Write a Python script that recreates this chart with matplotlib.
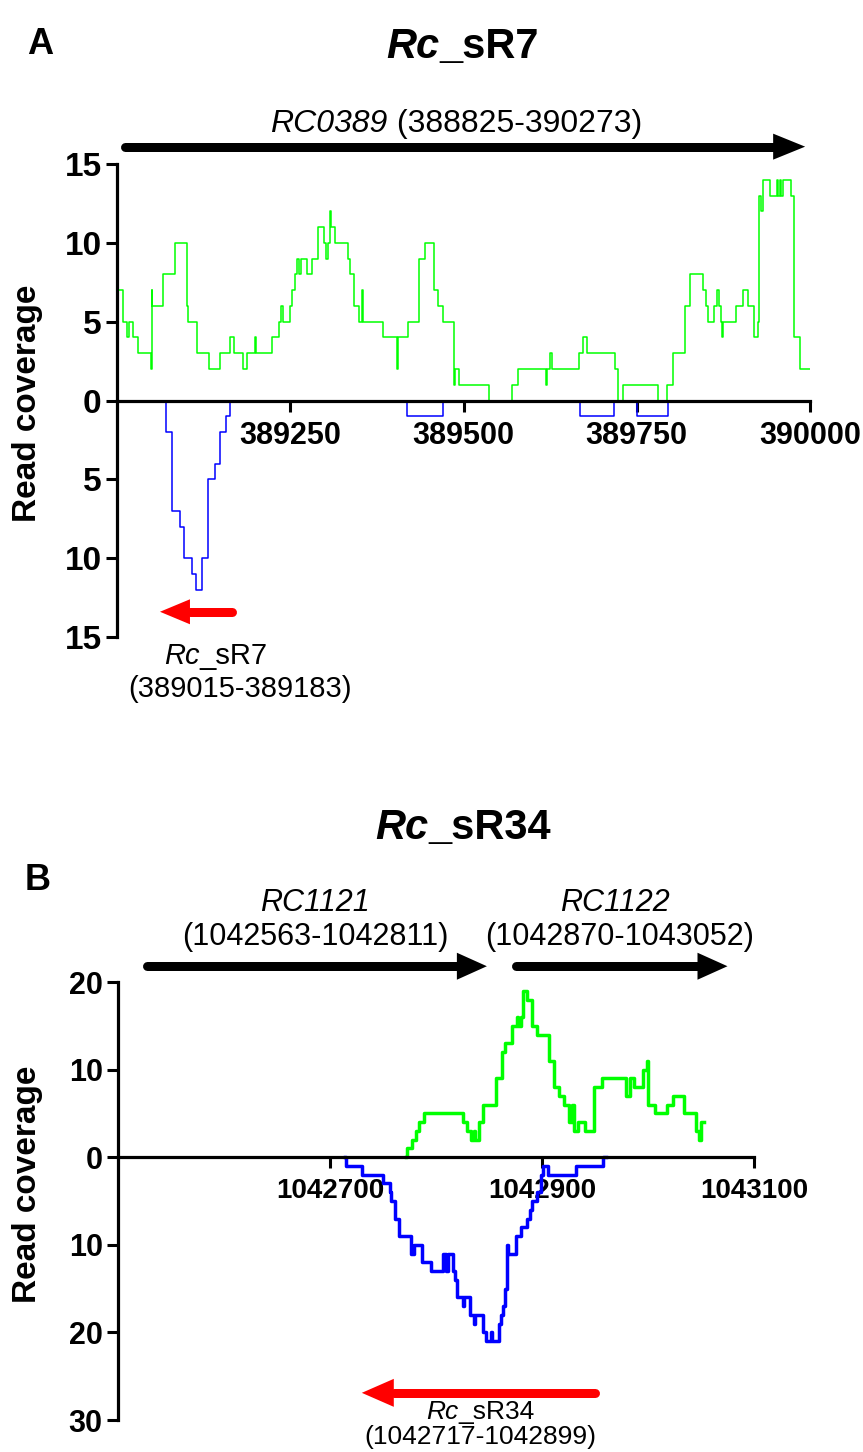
import matplotlib
matplotlib.use('Agg')
import matplotlib.pyplot as plt

BASE = 'Liberation Sans'
plt.rcParams['font.family'] = [BASE, 'DejaVu Sans']

# ---------------- data : panel A (Rc_sR7) ----------------
greenA_x = [389000, 389009, 389015, 389018, 389023, 389031, 389049, 389050, 389051, 389066,
            389084, 389101, 389103, 389116, 389133, 389149, 389163, 389169, 389182, 389187,
            389199, 389200, 389223, 389234, 389237, 389239, 389250, 389253, 389257, 389260,
            389263, 389265, 389274, 389282, 389290, 389298, 389301, 389305, 389307, 389309,
            389314, 389334, 389336, 389342, 389349, 389353, 389355, 389384, 389404, 389406,
            389420, 389436, 389445, 389458, 389463, 389470, 389486, 389488, 389494, 389537,
            389570, 389578, 389619, 389621, 389625, 389627, 389667, 389672, 389678, 389719,
            389723, 389730, 389781, 389794, 389802, 389820, 389827, 389845, 389850, 389853,
            389861, 389866, 389868, 389871, 389873, 389875, 389893, 389903, 389911, 389919,
            389925, 389927, 389929, 389932, 389943, 389952, 389954, 389956, 389958, 389961,
            389973, 389977, 389985, 390000]
greenA_y = [7, 5, 4, 5, 4, 3, 2, 7, 6, 8,
            10, 6, 5, 3, 2, 3, 4, 3, 2, 3,
            4, 3, 4, 5, 6, 5, 6, 7, 8, 9,
            8, 9, 8, 9, 11, 10, 9, 10, 12, 11,
            10, 9, 8, 6, 5, 7, 5, 4, 2, 4,
            5, 9, 10, 7, 6, 5, 1, 2, 1, 0,
            1, 2, 1, 2, 3, 2, 3, 4, 3, 2,
            0, 1, 0, 1, 3, 6, 8, 7, 6, 5,
            6, 7, 6, 5, 4, 5, 6, 7, 6, 4,
            5, 13, 12, 14, 13, 14, 13, 14, 13, 14,
            13, 4, 2, 2]

blueA_x = [389000, 389071, 389079, 389091, 389097, 389108, 389114, 389122, 389131, 389142,
           389149, 389158, 389163, 389419, 389470, 389668, 389717, 389750, 389795, 390000]
blueA_y = [0, 2, 7, 8, 10, 11, 12, 10, 5, 4,
           2, 1, 0, 1, 0, 1, 0, 1, 0, 0]

xticksA = [389250, 389500, 389750, 390000]
yticksA = [-15, -10, -5, 0, 5, 10, 15]
geneA = (389012, 389993, 16.1)          # RC0389 arrow (tail, tip, level)
srnaA = (389166, 389062, -13.4)         # Rc_sR7 arrow

# ---------------- data : panel B (Rc_sR34) ----------------
greenB_x = [1042772, 1042773, 1042777, 1042781, 1042784, 1042789, 1042825, 1042829, 1042833, 1042836,
            1042837, 1042841, 1042844, 1042857, 1042862, 1042865, 1042872, 1042876, 1042877, 1042880,
            1042882, 1042886, 1042891, 1042895, 1042907, 1042911, 1042916, 1042921, 1042925, 1042928,
            1042930, 1042934, 1042941, 1042949, 1042957, 1042979, 1042983, 1042987, 1042995, 1042999,
            1043000, 1043007, 1043018, 1043024, 1043034, 1043045, 1043048, 1043050, 1043053]
greenB_y = [0, 1, 2, 3, 4, 5, 4, 3, 2, 3,
            2, 4, 6, 9, 12, 13, 15, 16, 15, 16,
            19, 18, 15, 14, 11, 8, 7, 6, 4, 6,
            3, 4, 3, 8, 9, 7, 9, 8, 10, 11,
            6, 5, 6, 7, 5, 3, 2, 4, 4]

blueB_x = [1042714, 1042715, 1042730, 1042750, 1042757, 1042758, 1042761, 1042765, 1042776, 1042779,
           1042787, 1042795, 1042807, 1042809, 1042811, 1042816, 1042818, 1042820, 1042825, 1042826,
           1042832, 1042836, 1042837, 1042844, 1042847, 1042852, 1042853, 1042859, 1042861, 1042863,
           1042865, 1042867, 1042868, 1042875, 1042880, 1042886, 1042889, 1042891, 1042895, 1042899,
           1042901, 1042906, 1042932, 1042958, 1042960]
blueB_y = [0, 1, 2, 3, 4, 5, 7, 9, 11, 10,
           12, 13, 11, 13, 11, 13, 14, 16, 17, 16,
           18, 19, 18, 20, 21, 20, 21, 19, 18, 17,
           15, 10, 11, 9, 8, 7, 6, 5, 4, 2,
           1, 2, 1, 0, 0]

xticksB = [1042700, 1042900, 1043100]
yticksB = [-30, -20, -10, 0, 10, 20]
geneB1 = (1042527, 1042848, 21.8)       # RC1121 arrow
geneB2 = (1042875, 1043075, 21.8)       # RC1122 arrow
srnaB = (1042950, 1042730, -26.9)       # Rc_sR34 arrow

# ---------------- figure ----------------
W, H = 863, 1452
fig = plt.figure(figsize=(W / 100, H / 100), dpi=100)
fig.patch.set_facecolor('white')
renderer = fig.canvas.get_renderer()


def px_axes(l, t, r, b):
    return fig.add_axes([l / W, 1 - b / H, (r - l) / W, (b - t) / H])


def mixed(px, py, parts, fontsize, weight='normal'):
    """Centered text made of (string, fontstyle) pieces."""
    texts = [fig.text(0, 1 - py / H, s, fontsize=fontsize, fontstyle=st,
                      fontweight=weight, ha='left', va='center')
             for s, st in parts]
    widths = [t.get_window_extent(renderer).width for t in texts]
    x = px - sum(widths) / 2
    for t, w in zip(texts, widths):
        t.set_x(x / W)
        x += w


def setup(ax, xlim, ylim, xticks, yticks, xfs, yfs):
    ax.set_xlim(xlim)
    ax.set_ylim(ylim)
    ax.patch.set_alpha(0)
    for s in ['top', 'right']:
        ax.spines[s].set_visible(False)
    ax.spines['bottom'].set_position(('data', 0))
    for s in ['left', 'bottom']:
        ax.spines[s].set_linewidth(2.3)
        ax.spines[s].set_color('black')
    ax.set_xticks(xticks)
    ax.set_xticklabels([str(v) for v in xticks], fontsize=xfs, fontweight='bold')
    ax.set_yticks(yticks)
    ax.set_yticklabels([str(abs(v)) for v in yticks], fontsize=yfs, fontweight='bold')
    ax.tick_params(axis='both', direction='out', length=8, width=2.2, colors='black')
    ax.tick_params(axis='x', pad=7)
    ax.tick_params(axis='y', pad=3)


def arrow(ax, spec, color, shaft_px, head_w_px, head_len_px):
    x0, x1, y = spec
    bb = ax.get_position()
    xl, yl = ax.get_xlim(), ax.get_ylim()
    dxp = (xl[1] - xl[0]) / (bb.width * W)
    dyp = (yl[1] - yl[0]) / (bb.height * H)
    d = 1 if x1 > x0 else -1
    base = x1 - d * head_len_px * dxp
    ax.plot([x0, base], [y, y], color=color, lw=shaft_px * 0.72,
            solid_capstyle='round', clip_on=False, zorder=5)
    hw = head_w_px * dyp / 2
    ax.fill([base, x1, base], [y - hw, y, y + hw], color=color, lw=0,
            clip_on=False, zorder=5)


def ylabel(ax, cx, cy, fs):
    ax.set_ylabel('Read coverage', fontsize=fs, fontweight='bold', va='center')
    bb = ax.get_position()
    ax.yaxis.set_label_coords((cx / W - bb.x0) / bb.width,
                              ((1 - cy / H) - bb.y0) / bb.height)


# ---- panel A ----
axA = px_axes(117, 164, 810, 637)
setup(axA, (389000, 390000), (-15, 15), xticksA, yticksA, 22, 24)
axA.step(greenA_x, greenA_y, where='post', color='#00ff00', lw=1.1)
axA.step(blueA_x, [-v for v in blueA_y], where='post', color='#0000ff', lw=1.1)
arrow(axA, geneA, 'black', 9, 26, 32)
arrow(axA, srnaA, '#ff0000', 9, 25, 30)
ylabel(axA, 28, 403, 24)

fig.text(40 / W, 1 - 45 / H, 'A', fontsize=26, fontweight='bold', ha='center', va='center')
mixed(463, 47, [('Rc', 'italic'), ('_sR7', 'normal')], 30, 'bold')
mixed(456, 124, [('RC0389', 'italic'), (' (388825-390273)', 'normal')], 23)
mixed(216, 656, [('Rc', 'italic'), ('_sR7', 'normal')], 21)
mixed(240, 689, [('(389015-389183)', 'normal')], 21)

# ---- panel B ----
axB = px_axes(118, 982, 754, 1420)
setup(axB, (1042500, 1043100), (-30, 20), xticksB, yticksB, 20, 22)
axB.step(greenB_x, greenB_y, where='post', color='#00ff00', lw=2.5)
axB.step(blueB_x, [-v for v in blueB_y], where='post', color='#0000ff', lw=2.5)
arrow(axB, geneB1, 'black', 9, 27, 30)
arrow(axB, geneB2, 'black', 9, 27, 30)
arrow(axB, srnaB, '#ff0000', 9, 28, 32)
ylabel(axB, 28, 1184, 24)

mixed(463, 828, [('Rc', 'italic'), ('_sR34', 'normal')], 30, 'bold')
fig.text(38 / W, 1 - 880 / H, 'B', fontsize=26, fontweight='bold', ha='center', va='center')
mixed(315, 903, [('RC1121', 'italic')], 22)
mixed(315, 937, [('(1042563-1042811)', 'normal')], 22)
mixed(615, 903, [('RC1122', 'italic')], 22)
mixed(620, 937, [('(1042870-1043052)', 'normal')], 22)
mixed(480, 1412, [('Rc', 'italic'), ('_sR34', 'normal')], 19)
mixed(480, 1437, [('(1042717-1042899)', 'normal')], 19)

fig.savefig('out.png', dpi=100, facecolor='white')
